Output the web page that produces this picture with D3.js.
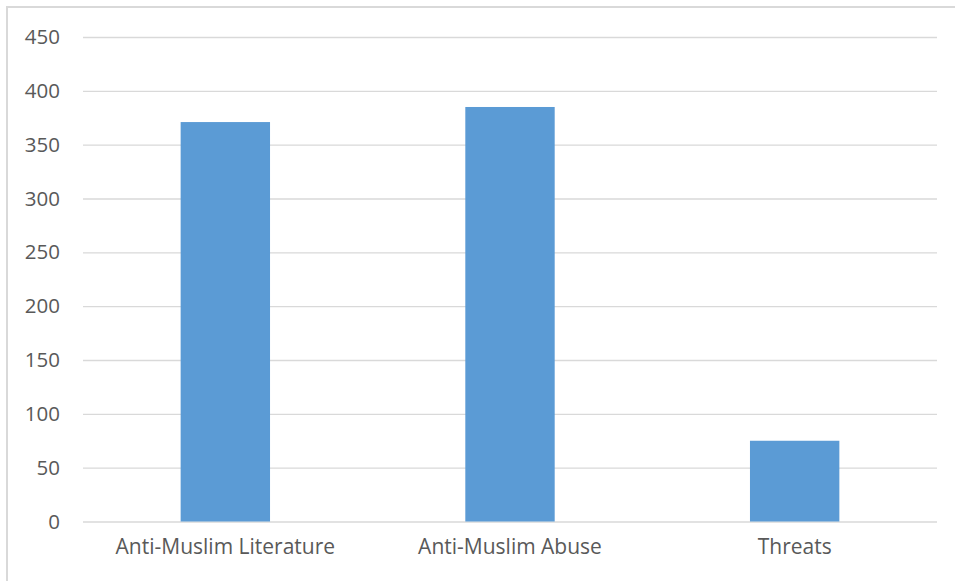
<!DOCTYPE html>
<html><head><meta charset="utf-8">
<script src="https://cdn.jsdelivr.net/npm/d3@7"></script>
<style>html,body{margin:0;padding:0;background:#fff;overflow:hidden}</style>
</head><body>
<svg id="c" width="955" height="581"></svg>
<script>
const categories = ["Anti-Muslim Literature", "Anti-Muslim Abuse", "Threats"];
const values = [371, 385, 75];
const yTicks = [0, 50, 100, 150, 200, 250, 300, 350, 400, 450];

const svg = d3.select("#c");
const m = {left: 83, right: 937, top: 37, bottom: 521.5};
svg.append("rect").attr("x", 7).attr("y", 7).attr("width", 960).attr("height", 600)
  .attr("fill", "none").attr("stroke", "#d9d9d9").attr("stroke-width", 2);

const x = d3.scaleBand().domain(categories).range([m.left, m.right]).paddingInner(0.686).paddingOuter(0.343);
const y = d3.scaleLinear().domain([0, 450]).range([m.bottom, m.top]);
const font = "Open Sans, Liberation Sans, sans-serif";

const ga = svg.append("g").attr("transform", `translate(${m.left},0)`)
  .call(d3.axisLeft(y).tickValues(yTicks).tickSize(-(m.right - m.left)).tickPadding(23));
ga.select(".domain").remove();
ga.selectAll(".tick line").attr("stroke", "#d9d9d9").attr("stroke-width", 1.3);
ga.selectAll(".tick text").attr("fill", "#595959").style("font-family", font).style("font-size", "20.5px");

svg.selectAll("rect.bar").data(values).enter().append("rect").attr("class", "bar")
  .attr("x", (d, i) => x(categories[i])).attr("width", x.bandwidth())
  .attr("y", d => y(d)).attr("height", d => y(0) - y(d)).attr("fill", "#5b9bd5");

const gx = svg.append("g").attr("transform", `translate(0,${m.bottom})`)
  .call(d3.axisBottom(x).tickSize(0).tickPadding(18));
gx.select(".domain").remove();
gx.selectAll(".tick text").attr("fill", "#595959").style("font-family", font).style("font-size", "21px");
</script>
</body></html>
